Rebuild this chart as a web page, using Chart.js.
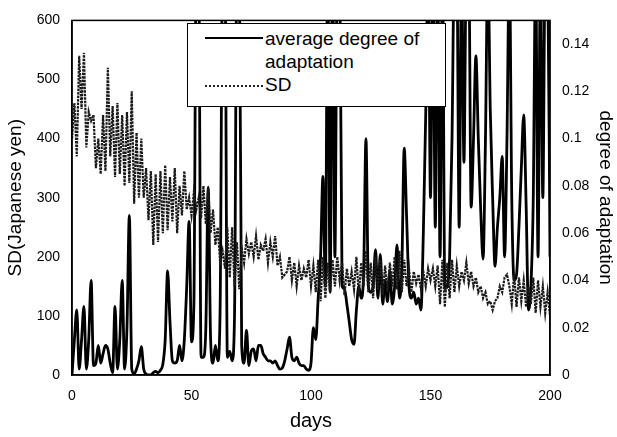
<!DOCTYPE html>
<html>
<head>
<meta charset="utf-8">
<script src="https://cdn.jsdelivr.net/npm/chart.js@4.4.1/dist/chart.umd.min.js"></script>
<style>
  body { margin: 0; background: #fff; }
  #wrap { position: relative; width: 617px; height: 437px; }
  #legend {
    position: absolute; left: 187px; top: 23px; width: 259px; height: 84px;
    border: 1px solid #000; background: #fff; box-sizing: border-box;
    font-family: "Liberation Sans", Arial, sans-serif; font-size: 19px; color: #000;
  }
  #legend .txt { position: absolute; left: 77px; width: 178px; line-height: 23px; }
  #legend .swatch { position: absolute; left: 17px; width: 58px; }
</style>
</head>
<body>
<div id="wrap">
  <canvas id="myChart" width="617" height="437"></canvas>
  <div id="legend">
    <div class="swatch" style="top:13px;border-top:2.5px solid #000;"></div>
    <div class="txt" style="top:3px;">average degree of adaptation</div>
    <div class="swatch" style="top:61px;border-top:2px dotted #222;"></div>
    <div class="txt" style="top:49px;">SD</div>
  </div>
</div>
<script>
// SD (Japanese yen), one value per day, left axis
const sd = [
  400, 460, 370, 540, 450, 545, 385, 445, 430, 440,
  350, 400, 340, 440, 345, 520, 370, 455, 335, 460,
  340, 440, 320, 445, 325, 480, 290, 410, 300, 400,
  300, 350, 262, 345, 220, 340, 225, 345, 240, 355,
  245, 335, 260, 350, 240, 320, 270, 345, 280, 300,
  270, 310, 280, 300, 265, 320, 255, 315, 240, 280,
  220, 250, 190, 210, 180, 250, 165, 250, 150, 225,
  145, 215, 190, 230, 205, 225, 200, 235, 195, 220,
  210, 230, 190, 225, 200, 235, 185, 200, 165, 170,
  175, 200, 160, 190, 150, 185, 160, 180, 165, 195,
  150, 185, 140, 195, 125, 200, 130, 190, 140, 195,
  150, 200, 160, 190, 135, 180, 150, 175, 145, 200,
  135, 190, 150, 210, 140, 190, 130, 200, 145, 195,
  135, 185, 140, 190, 150, 200, 145, 210, 140, 195,
  150, 180, 140, 175, 155, 170, 145, 175, 150, 180,
  160, 180, 150, 185, 120, 195, 115, 190, 130, 195,
  140, 185, 150, 175, 160, 190, 155, 175, 150, 165,
  140, 150, 130, 140, 120, 125, 110, 125, 130, 150,
  140, 165, 170, 150, 120, 170, 115, 165, 125, 160,
  115, 150, 120, 165, 105, 160, 115, 150, 105, 140,
  100
];

// average degree of adaptation, one value per day, right axis
const adaptation = [
  0, 0.015, 0.0275, 0.0025, 0.015, 0.029, 0.0025, 0.015, 0.04, 0.004,
  0.005, 0.0125, 0.005, 0.009, 0.0125, 0.011, 0.005, 0.001, 0.029, 0.0025,
  0.015, 0.04, 0.0025, 0.02, 0.0675, 0.0025, 0.0005, 0.0025, 0.006, 0.012,
  0.0025, 0.0005, 0, 0, 0.001, 0.0015, 0.001, 0.002, 0.0045, 0.015,
  0.044, 0.0225, 0.006, 0.005, 0.006, 0.0125, 0.006, 0.015, 0.0375, 0.065,
  0.014, 0.03, 0.175, 0.175, 0.0075, 0.0075, 0.02, 0.0795, 0.015, 0.005,
  0.0125, 0.006, 0.03, 0.175, 0.175, 0.0075, 0.01, 0.006, 0.025, 0.175,
  0.175, 0.0125, 0.005, 0.019, 0.004, 0.01, 0.011, 0.006, 0.0125, 0.0125,
  0.009, 0.0075, 0.006, 0.006, 0.005, 0.006, 0.004, 0.0025, 0.003, 0.006,
  0.011, 0.016, 0.0075, 0.006, 0.0075, 0.005, 0.004, 0.004, 0.0025, 0.002,
  0.005, 0.02, 0.015, 0.0325, 0.05, 0.084, 0.0375, 0.175, 0.035, 0.175,
  0.05, 0.175, 0.175, 0.0375, 0.0365, 0.03, 0.0225, 0.015, 0.013, 0.0275,
  0.0375, 0.0325, 0.0425, 0.1, 0.0375, 0.035, 0.0375, 0.053, 0.0325, 0.051,
  0.03, 0.04, 0.031, 0.044, 0.03, 0.0375, 0.055, 0.0325, 0.045, 0.096,
  0.067, 0.0375, 0.0325, 0.035, 0.03, 0.0325, 0.0275, 0.06, 0.11, 0.175,
  0.075, 0.175, 0.0625, 0.175, 0.05, 0.175, 0.0365, 0.0375, 0.05, 0.1,
  0.175, 0.175, 0.0625, 0.175, 0.09, 0.175, 0.175, 0.071, 0.1, 0.135,
  0.1, 0.07, 0.049, 0.1, 0.175, 0.1125, 0.075, 0.046, 0.0625, 0.075,
  0.0925, 0.05, 0.1, 0.175, 0.075, 0.04, 0.0425, 0.0625, 0.0875, 0.11,
  0.0725, 0.0275, 0.0375, 0.075, 0.175, 0.05, 0.175, 0.075, 0.175, 0.175,
  0.05
];

const days = sd.map((_, i) => i);
const xTicks = [0, 50, 100, 150, 200];
const leftTicks = [0, 100, 200, 300, 400, 500, 600];
const rightTicks = [0, 0.02, 0.04, 0.06, 0.08, 0.1, 0.12, 0.14];

const font = "'Liberation Sans', Arial, sans-serif";
Chart.defaults.color = "#000";
Chart.defaults.font.family = font;

// frame round the plot area
const framePlugin = {
  id: "frame",
  afterDatasetsDraw(chart) {
    const a = chart.chartArea;
    const ctx = chart.ctx;
    ctx.save();
    ctx.strokeStyle = "#000";
    ctx.lineWidth = 1.5;
    ctx.strokeRect(a.left, a.top, a.right - a.left, a.bottom - a.top);
    ctx.restore();
  },
};

const setTicks = (list) => (scale) => {
  scale.ticks = list.map((v) => ({ value: v }));
};

var ctx = document.getElementById("myChart").getContext("2d");
var myChart = new Chart(ctx, {
  type: "line",
  data: {
    datasets: [
      {
        label: "SD",
        data: days.map((d, i) => ({ x: d, y: sd[i] })),
        yAxisID: "y",
        borderColor: "#1a1a1a",
        borderWidth: 2.2,
        borderDash: [2.5, 1],
        pointRadius: 0,
        tension: 0,
      },
      {
        label: "average degree of adaptation",
        data: days.map((d, i) => ({ x: d, y: adaptation[i] })),
        yAxisID: "y1",
        borderColor: "#000",
        borderWidth: 2.8,
        pointRadius: 0,
        cubicInterpolationMode: "monotone",
      },
    ],
  },
  options: {
    responsive: false,
    animation: false,
    layout: { padding: { top: 13, right: 0, left: 0, bottom: 0 } },
    plugins: { legend: { display: false }, tooltip: { enabled: false } },
    scales: {
      x: {
        type: "linear",
        min: 0,
        max: 200,
        afterBuildTicks: setTicks(xTicks),
        afterFit: (s) => { s.height = 62; },
        grid: { drawOnChartArea: false, drawTicks: false },
        border: { color: "#000", width: 1.5 },
        ticks: { font: { size: 14 }, padding: 13, maxRotation: 0 },
        title: { display: true, text: "days", font: { size: 20 }, padding: { top: 4 } },
      },
      y: {
        position: "left",
        min: 0,
        max: 600,
        afterBuildTicks: setTicks(leftTicks),
        afterFit: (s) => { s.width = 72; },
        grid: { drawOnChartArea: false, drawTicks: false },
        border: { color: "#000", width: 1.5 },
        ticks: { font: { size: 14 }, padding: 12 },
        title: { display: true, text: "SD(Japanese yen)", font: { size: 19 }, padding: { bottom: 0 } },
      },
      y1: {
        position: "right",
        min: 0,
        max: 0.15,
        afterBuildTicks: setTicks(rightTicks),
        afterFit: (s) => { s.width = 67; },
        grid: { drawOnChartArea: false, drawTicks: false },
        border: { color: "#000", width: 1.5 },
        ticks: { font: { size: 14 }, padding: 12, callback: (v) => String(+v.toFixed(2)) },
        title: { display: true, text: "degree of adaptation", font: { size: 19 }, padding: { top: 0 } },
      },
    },
  },
  plugins: [framePlugin],
});
</script>
</body>
</html>
